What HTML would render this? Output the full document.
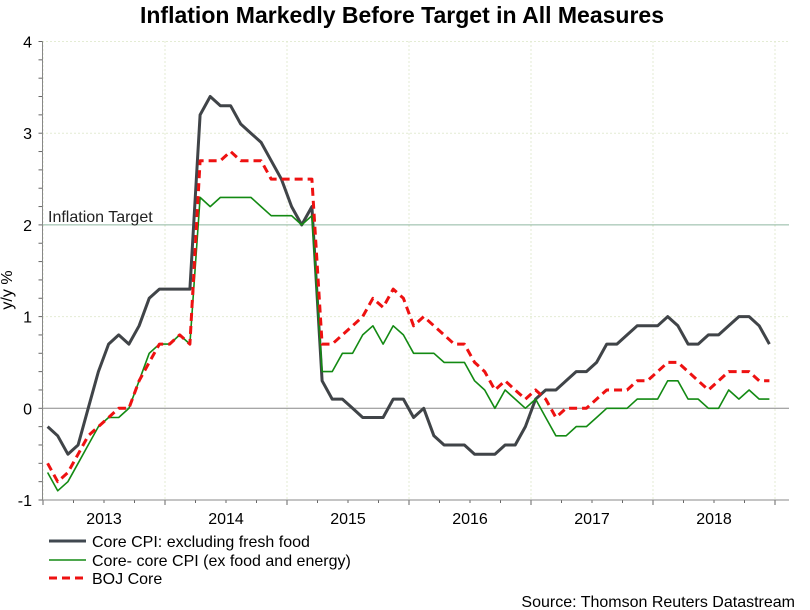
<!DOCTYPE html>
<html><head><meta charset="utf-8"><style>
body{margin:0;background:#fff;}
svg{display:block;font-family:"Liberation Sans",Arial,sans-serif;}
</style></head><body>
<svg id="chart" width="810" height="610" viewBox="0 0 810 610">
<text x="402" y="23" text-anchor="middle" font-size="23" font-weight="bold">Inflation Markedly Before Target in All Measures</text>
<g id="grid"></g>
<g id="axes"></g>
<text x="48" y="222" font-size="16" fill="#222">Inflation Target</text>
<text transform="translate(12,290) rotate(-90)" text-anchor="middle" font-size="16">y/y %</text>
<g id="series"></g>
<g>
<g><line x1="49" y1="541" x2="86" y2="541" stroke="#404850" stroke-width="3"/><text x="92" y="547" font-size="16">Core CPI: excluding fresh food</text></g>
<g><line x1="49" y1="560" x2="86" y2="560" stroke="#138a13" stroke-width="1.6"/><text x="92" y="566" font-size="16">Core- core CPI (ex food and energy)</text></g>
<g><line x1="49" y1="578" x2="86" y2="578" stroke="#ee1111" stroke-width="3" stroke-dasharray="8,5"/><text x="92" y="584" font-size="16">BOJ Core</text></g>
</g>
<text x="795" y="607" text-anchor="end" font-size="16">Source: Thomson Reuters Datastream</text>
</svg>
<script>
const years=[2013,2014,2015,2016,2017,2018];
const yTicks=[-1,0,1,2,3,4];
const coreCPI=[-0.2,-0.3,-0.5,-0.4,0.0,0.4,0.7,0.8,0.7,0.9,1.2,1.3,1.3,1.3,1.3,3.2,3.4,3.3,3.3,3.1,3.0,2.9,2.7,2.5,2.2,2.0,2.2,0.3,0.1,0.1,0.0,-0.1,-0.1,-0.1,0.1,0.1,-0.1,0.0,-0.3,-0.4,-0.4,-0.4,-0.5,-0.5,-0.5,-0.4,-0.4,-0.2,0.1,0.2,0.2,0.3,0.4,0.4,0.5,0.7,0.7,0.8,0.9,0.9,0.9,1.0,0.9,0.7,0.7,0.8,0.8,0.9,1.0,1.0,0.9,0.7];
const coreCoreCPI=[-0.7,-0.9,-0.8,-0.6,-0.4,-0.2,-0.1,-0.1,0.0,0.3,0.6,0.7,0.7,0.8,0.7,2.3,2.2,2.3,2.3,2.3,2.3,2.2,2.1,2.1,2.1,2.0,2.1,0.4,0.4,0.6,0.6,0.8,0.9,0.7,0.9,0.8,0.6,0.6,0.6,0.5,0.5,0.5,0.3,0.2,0.0,0.2,0.1,0.0,0.1,-0.1,-0.3,-0.3,-0.2,-0.2,-0.1,0.0,0.0,0.0,0.1,0.1,0.1,0.3,0.3,0.1,0.1,0.0,0.0,0.2,0.1,0.2,0.1,0.1];
const bojCore=[-0.6,-0.8,-0.7,-0.5,-0.3,-0.2,-0.1,0.0,0.0,0.3,0.5,0.7,0.7,0.8,0.7,2.7,2.7,2.7,2.8,2.7,2.7,2.7,2.5,2.5,2.5,2.5,2.5,0.7,0.7,0.8,0.9,1.0,1.2,1.1,1.3,1.2,0.9,1.0,0.9,0.8,0.7,0.7,0.5,0.4,0.2,0.3,0.2,0.1,0.2,0.1,-0.1,0.0,0.0,0.0,0.1,0.2,0.2,0.2,0.3,0.3,0.4,0.5,0.5,0.4,0.3,0.2,0.3,0.4,0.4,0.4,0.3,0.3];
const target=2;
const NS='http://www.w3.org/2000/svg';
const X0=43,MW=122/12,L=42.5,R=789,Y0=408.3,UY=91.7;
const xm=i=>X0+MW*(i+0.45);
const xd=m=>X0+MW*m;
const y=v=>Y0-v*UY;
function mk(p,t,a){const e=document.createElementNS(NS,t);for(const k in a)e.setAttribute(k,a[k]);p.appendChild(e);return e;}
const grid=document.getElementById('grid'),axes=document.getElementById('axes'),ser=document.getElementById('series');
yTicks.forEach(v=>{
 let st=v===0?'#888':(v===target?'#8fb8a0':'#c8d8a8');
 let l=mk(grid,'line',{x1:L,x2:R,y1:y(v),y2:y(v),stroke:st,'stroke-width':1});
 if(v!==0&&v!==target)l.setAttribute('stroke-dasharray','1,3');
 
 
 let t=mk(axes,'text',{x:32,y:y(v)+6,'text-anchor':'end','font-size':16});
 t.textContent=v;
 
 
});
for(let v=-1;v<=4.001;v+=0.2){mk(axes,'line',{x1:L-4,x2:L,y1:y(v),y2:y(v),stroke:'#666'});}
for(let k=0;k<=years.length;k++){
 let l=mk(grid,'line',{x1:xd(k*12),x2:xd(k*12),y1:y(4),y2:y(-1),stroke:'#c8d8a8','stroke-dasharray':'1,3'});
 
 
}
for(let m=0;m<=years.length*12;m+=3){mk(axes,'line',{x1:xd(m),x2:xd(m),y1:y(-1),y2:y(-1)+(m%12?3:5),stroke:'#666'});}
years.forEach((yr,k)=>{
 let t=mk(axes,'text',{x:xd(k*12+6),y:524,'text-anchor':'middle','font-size':16});
 t.textContent=yr;
 
 
});
mk(axes,'line',{x1:L,x2:L,y1:y(4),y2:y(-1),stroke:'#888'});
mk(axes,'line',{x1:L,x2:R,y1:y(-1),y2:y(-1),stroke:'#888'});
function draw(arr,col,w,dash,name){
 const p=mk(ser,'polyline',{points:arr.map((v,i)=>xm(i).toFixed(1)+','+y(v).toFixed(1)).join(' '),fill:'none',stroke:col,'stroke-width':w,'stroke-linejoin':'round'});
 if(dash)p.setAttribute('stroke-dasharray',dash);
 
 
}
draw(coreCPI,'#404448',3,null,'core-cpi-line');
draw(coreCoreCPI,'#138a13',1.6,null,'core-core-cpi-line');
draw(bojCore,'#ee1111',3,'8,5','boj-core-line');
</script>
</body></html>
